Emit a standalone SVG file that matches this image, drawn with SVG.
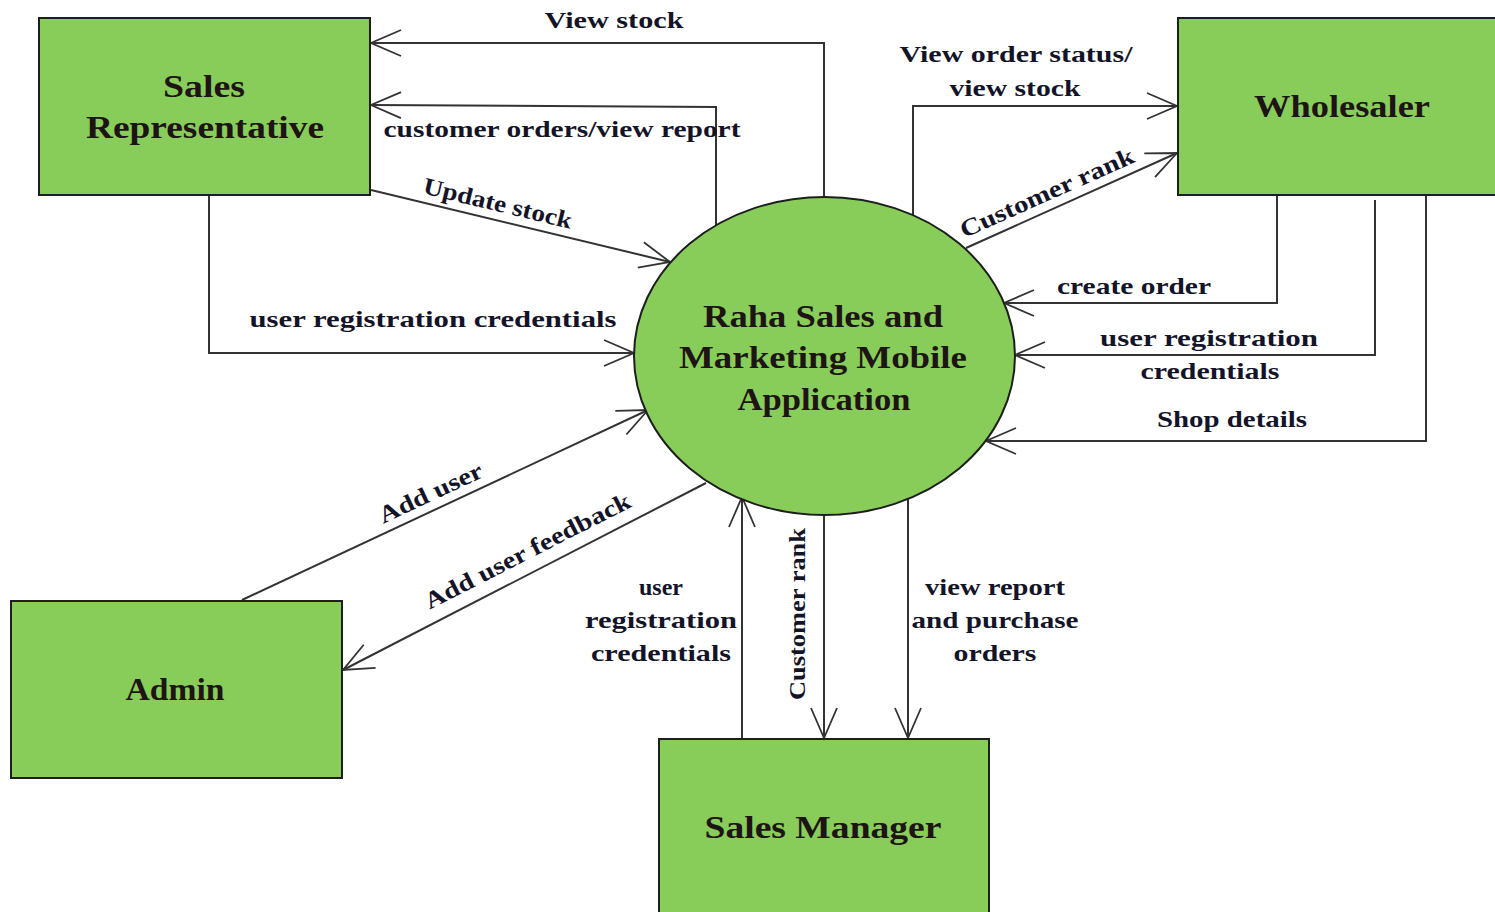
<svg xmlns="http://www.w3.org/2000/svg" width="1495" height="912" viewBox="0 0 1495 912">
<defs>
<style>
.box{fill:#88CD5A;stroke:#1e1e1e;stroke-width:2}
.nt{font-family:"Liberation Serif",serif;font-weight:bold;font-size:31px;fill:#1e1414;text-anchor:middle}
.lb{font-family:"Liberation Serif",serif;font-weight:bold;font-size:24px;fill:#141428;text-anchor:middle}
.ln{fill:none;stroke:#333;stroke-width:2}
</style>
<marker id="ah" viewBox="-32 -15 34 30" markerWidth="34" markerHeight="30" refX="0" refY="0" orient="auto" markerUnits="userSpaceOnUse" overflow="visible">
<path d="M-30,-13 L0,0 L-30,13" fill="none" stroke="#333" stroke-width="1.8"/>
</marker>
</defs>
<rect width="1495" height="912" fill="#fff"/>
<g id="connectors">
<path class="ln" d="M824,197 V43 H371" marker-end="url(#ah)"/>
<path class="ln" d="M716,225 V107 L371,105" marker-end="url(#ah)"/>
<path class="ln" d="M371,190 L670,262" marker-end="url(#ah)"/>
<path class="ln" d="M209,195 V353 H634" marker-end="url(#ah)"/>
<path class="ln" d="M913,215 V106 H1177" marker-end="url(#ah)"/>
<path class="ln" d="M966,248 L1177,153" marker-end="url(#ah)"/>
<path class="ln" d="M1277,195 V303 H1004" marker-end="url(#ah)"/>
<path class="ln" d="M1375,200 V355 H1015" marker-end="url(#ah)"/>
<path class="ln" d="M1426,195 V441 H986" marker-end="url(#ah)"/>
<path class="ln" d="M242,600 L648,410" marker-end="url(#ah)"/>
<path class="ln" d="M706,483 L343,670" marker-end="url(#ah)"/>
<path class="ln" d="M742,739 V497" marker-end="url(#ah)"/>
<path class="ln" d="M824,515 V738" marker-end="url(#ah)"/>
<path class="ln" d="M908,498 V738" marker-end="url(#ah)"/>
<text class="lb" x="614" y="28" textLength="139" lengthAdjust="spacingAndGlyphs">View stock</text>
<text class="lb" x="562" y="137" textLength="357" lengthAdjust="spacingAndGlyphs">customer orders/view report</text>
<text class="lb" x="0" y="0" transform="translate(496,211) rotate(13.5)" textLength="152" lengthAdjust="spacingAndGlyphs">Update stock</text>
<text class="lb" x="433" y="327" textLength="367" lengthAdjust="spacingAndGlyphs">user registration credentials</text>
<text class="lb" x="1016" y="62" textLength="233" lengthAdjust="spacingAndGlyphs">View order status/</text>
<text class="lb" x="1015" y="96" textLength="131" lengthAdjust="spacingAndGlyphs">view stock</text>
<text class="lb" x="0" y="0" transform="translate(1050,200) rotate(-24)" textLength="188" lengthAdjust="spacingAndGlyphs">Customer rank</text>
<text class="lb" x="1134" y="294" textLength="154" lengthAdjust="spacingAndGlyphs">create order</text>
<text class="lb" x="1209" y="346" textLength="218" lengthAdjust="spacingAndGlyphs">user registration</text>
<text class="lb" x="1210" y="379" textLength="139" lengthAdjust="spacingAndGlyphs">credentials</text>
<text class="lb" x="1232" y="427" textLength="150" lengthAdjust="spacingAndGlyphs">Shop details</text>
<text class="lb" x="0" y="0" transform="translate(434,500) rotate(-25)" textLength="112" lengthAdjust="spacingAndGlyphs">Add user</text>
<text class="lb" x="0" y="0" transform="translate(531,558) rotate(-27)" textLength="228" lengthAdjust="spacingAndGlyphs">Add user feedback</text>
<text class="lb" x="661" y="595">user</text>
<text class="lb" x="661" y="628" textLength="152" lengthAdjust="spacingAndGlyphs">registration</text>
<text class="lb" x="661" y="661" textLength="140" lengthAdjust="spacingAndGlyphs">credentials</text>
<text class="lb" x="0" y="0" transform="translate(805,614) rotate(-90)" textLength="172" lengthAdjust="spacingAndGlyphs">Customer rank</text>
<text class="lb" x="995" y="595" textLength="140" lengthAdjust="spacingAndGlyphs">view report</text>
<text class="lb" x="995" y="628" textLength="167" lengthAdjust="spacingAndGlyphs">and purchase</text>
<text class="lb" x="995" y="661" textLength="83" lengthAdjust="spacingAndGlyphs">orders</text>
</g>
<g id="sales-representative">
<rect class="box" x="39" y="18" width="331" height="177"/>
<text class="nt" x="204" y="97" textLength="82" lengthAdjust="spacingAndGlyphs">Sales</text>
<text class="nt" x="205" y="138" textLength="238" lengthAdjust="spacingAndGlyphs">Representative</text>
</g>
<g id="wholesaler">
<rect class="box" x="1178" y="18" width="332" height="177"/>
<text class="nt" x="1342" y="117" textLength="176" lengthAdjust="spacingAndGlyphs">Wholesaler</text>
</g>
<g id="raha-app">
<ellipse class="box" cx="824.5" cy="356" rx="190.5" ry="159"/>
<text class="nt" x="823" y="327" textLength="240" lengthAdjust="spacingAndGlyphs">Raha Sales and</text>
<text class="nt" x="823" y="368" textLength="288" lengthAdjust="spacingAndGlyphs">Marketing Mobile</text>
<text class="nt" x="824" y="410" textLength="173" lengthAdjust="spacingAndGlyphs">Application</text>
</g>
<g id="admin">
<rect class="box" x="11" y="601" width="331" height="177"/>
<text class="nt" x="175" y="700" textLength="99" lengthAdjust="spacingAndGlyphs">Admin</text>
</g>
<g id="sales-manager">
<rect class="box" x="659" y="739" width="330" height="200"/>
<text class="nt" x="823" y="838" textLength="237" lengthAdjust="spacingAndGlyphs">Sales Manager</text>
</g>
</svg>
